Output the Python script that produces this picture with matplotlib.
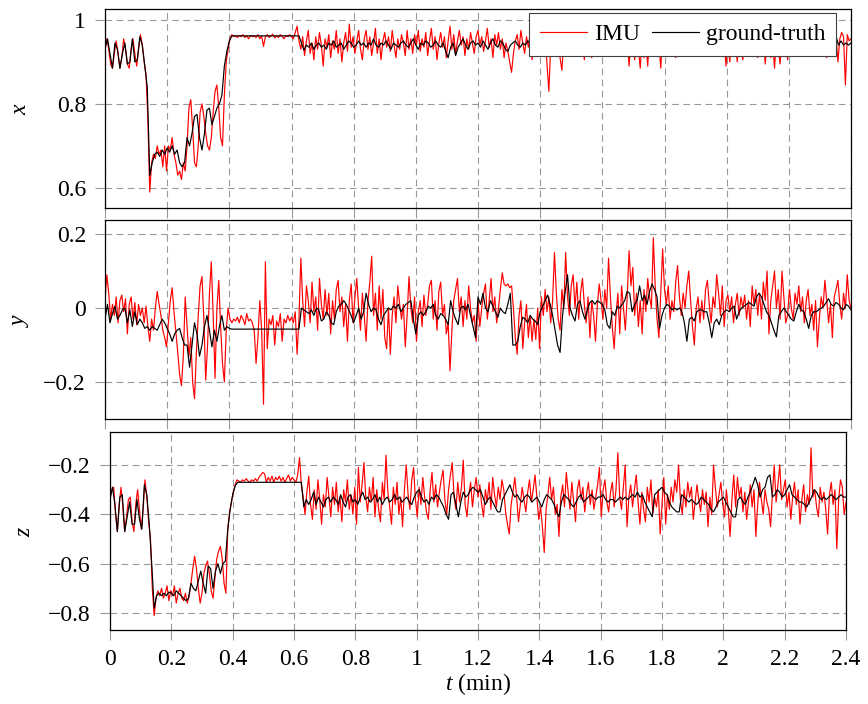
import matplotlib
matplotlib.use('Agg')
import matplotlib.pyplot as plt
from matplotlib.ticker import FuncFormatter
import numpy as np

plt.rcParams['font.family'] = ['Liberation Serif', 'DejaVu Serif']
plt.rcParams['mathtext.fontset'] = 'custom'
plt.rcParams['mathtext.rm'] = 'Liberation Serif'
plt.rcParams['mathtext.it'] = 'Liberation Serif:italic'
plt.rcParams['font.size'] = 17

# IMU samples every 0.006 min, ground-truth every 0.008 min (0 .. 2.4)
x_imu = [
    0.94, 0.955, 0.93, 0.895, 0.885, 0.92, 0.95, 0.92, 0.885, 0.91, 0.955, 0.93, 0.895, 0.885, 0.93, 0.955, 0.92, 0.89, 0.93, 0.965,
    0.94, 0.90, 0.87, 0.76, 0.59, 0.66, 0.68, 0.67, 0.70, 0.68, 0.69, 0.65, 0.70, 0.64, 0.70, 0.69, 0.72, 0.68, 0.66, 0.63,
    0.64, 0.62, 0.66, 0.64, 0.70, 0.79, 0.81, 0.74, 0.66, 0.65, 0.70, 0.78, 0.80, 0.77, 0.73, 0.70, 0.69, 0.72, 0.78, 0.83,
    0.845, 0.79, 0.72, 0.70, 0.82, 0.90, 0.93, 0.955, 0.965, 0.96, 0.962, 0.958, 0.963, 0.96, 0.965, 0.958, 0.962, 0.955, 0.963, 0.96,
    0.962, 0.958, 0.965, 0.955, 0.962, 0.937, 0.96, 0.965, 0.958, 0.962, 0.966, 0.957, 0.962, 0.958, 0.965, 0.96, 0.955, 0.963, 0.96, 0.965,
    0.96, 0.955, 0.97, 0.985, 0.95, 0.93, 0.96, 0.915, 0.95, 0.975, 0.92, 0.945, 0.905, 0.96, 0.93, 0.97, 0.94, 0.89, 0.955, 0.935,
    0.965, 0.91, 0.95, 0.93, 0.975, 0.92, 0.955, 0.90, 0.945, 0.97, 0.925, 0.99, 0.935, 0.96, 0.92, 0.95, 0.975, 0.93, 0.905, 0.955,
    0.975, 0.93, 0.96, 0.915, 0.945, 0.98, 0.92, 0.955, 0.905, 0.95, 0.97, 0.935, 0.96, 0.925, 0.975, 0.94, 0.91, 0.955, 0.93, 0.965,
    0.945, 0.915, 0.975, 0.93, 0.955, 0.92, 0.965, 0.94, 0.975, 0.925, 0.955, 0.935, 0.97, 0.915, 0.95, 0.98, 0.93, 0.96, 0.905, 0.945,
    0.97, 0.935, 0.96, 0.91, 0.95, 0.985, 0.93, 0.965, 0.92, 0.95, 0.975, 0.94, 0.96, 0.915, 0.955, 0.93, 0.97, 0.945, 0.92, 0.96,
    0.975, 0.94, 0.96, 0.925, 0.95, 0.98, 0.935, 0.955, 0.91, 0.965, 0.94, 0.97, 0.93, 0.955, 0.91, 0.945, 0.925, 0.90, 0.875, 0.92,
    0.95, 0.965, 0.93, 0.975, 0.945, 0.92, 0.96, 0.935, 0.97, 0.905, 0.95, 0.94, 0.965, 0.92, 0.955, 0.93, 0.975, 0.895, 0.83, 0.94,
    0.96, 0.93, 0.955, 0.975, 0.91, 0.88, 0.95, 0.935, 0.965, 0.945, 0.92, 0.96, 0.975, 0.94, 0.955, 0.93, 0.965, 0.905, 0.95, 0.97,
    0.945, 0.91, 0.96, 0.935, 0.975, 0.95, 0.915, 0.96, 0.94, 0.97, 0.925, 0.955, 0.945, 0.965, 0.93, 0.96, 0.975, 0.94, 0.955, 0.92,
    0.96, 0.89, 0.95, 0.975, 0.905, 0.945, 0.93, 0.885, 0.96, 0.91, 0.95, 0.89, 0.965, 0.94, 0.975, 0.93, 0.955, 0.945, 0.885, 0.96,
    0.94, 0.975, 0.92, 0.955, 0.965, 0.935, 0.91, 0.96, 0.945, 0.975, 0.93, 0.955, 0.97, 0.94, 0.96, 0.925, 0.965, 0.95, 0.975, 0.935,
    0.96, 0.945, 0.975, 0.93, 0.955, 0.965, 0.94, 0.97, 0.95, 0.925, 0.96, 0.975, 0.945, 0.89, 0.955, 0.90, 0.965, 0.935, 0.97, 0.90,
    0.955, 0.93, 0.905, 0.965, 0.945, 0.975, 0.92, 0.96, 0.94, 0.975, 0.91, 0.955, 0.93, 0.965, 0.895, 0.95, 0.975, 0.91, 0.945, 0.885,
    0.96, 0.93, 0.895, 0.965, 0.945, 0.975, 0.905, 0.955, 0.935, 0.97, 0.95, 0.915, 0.96, 0.945, 0.975, 0.925, 0.955, 0.94, 0.965, 0.93,
    0.97, 0.945, 0.915, 0.96, 0.975, 0.935, 0.955, 0.91, 0.965, 0.945, 0.975, 0.93, 0.96, 0.90, 0.955, 0.97, 0.96, 0.845, 0.965, 0.95,
    0.955]

x_gt = [
    0.93, 0.955, 0.92, 0.885, 0.945, 0.93, 0.885, 0.92, 0.945, 0.895, 0.90, 0.955, 0.90, 0.905, 0.96,
    0.94, 0.89, 0.84, 0.63, 0.66, 0.68, 0.685, 0.675, 0.69, 0.68, 0.695, 0.685, 0.70, 0.68, 0.69,
    0.66, 0.65, 0.66, 0.72, 0.70, 0.73, 0.77, 0.775, 0.72, 0.69, 0.73, 0.785, 0.79, 0.75, 0.77,
    0.79, 0.80, 0.82, 0.89, 0.925, 0.95, 0.962, 0.962, 0.962, 0.962, 0.962, 0.962, 0.962, 0.962, 0.962,
    0.962, 0.962, 0.962, 0.962, 0.962, 0.962, 0.962, 0.962, 0.962, 0.962, 0.962, 0.962, 0.962, 0.962, 0.962,
    0.962, 0.962, 0.962, 0.962, 0.945, 0.928, 0.94, 0.935, 0.945, 0.93, 0.94, 0.945, 0.935, 0.94, 0.93,
    0.945, 0.94, 0.95, 0.935, 0.94, 0.945, 0.93, 0.94, 0.95, 0.945, 0.935, 0.94, 0.95, 0.94, 0.945,
    0.935, 0.945, 0.94, 0.955, 0.94, 0.935, 0.945, 0.94, 0.95, 0.94, 0.93, 0.945, 0.94, 0.935, 0.945,
    0.95, 0.94, 0.935, 0.945, 0.955, 0.94, 0.93, 0.945, 0.94, 0.95, 0.945, 0.935, 0.94, 0.95, 0.94,
    0.935, 0.945, 0.925, 0.91, 0.935, 0.945, 0.915, 0.935, 0.945, 0.955, 0.94, 0.93, 0.945, 0.95, 0.94,
    0.945, 0.935, 0.95, 0.94, 0.93, 0.945, 0.955, 0.94, 0.935, 0.95, 0.945, 0.93, 0.925, 0.94, 0.945,
    0.95, 0.94, 0.935, 0.945, 0.94, 0.95, 0.945, 0.935, 0.94, 0.945, 0.93, 0.94, 0.95, 0.945, 0.94,
    0.94, 0.945, 0.935, 0.95, 0.94, 0.93, 0.945, 0.94, 0.95, 0.935, 0.945, 0.94, 0.95, 0.945, 0.935,
    0.945, 0.94, 0.95, 0.935, 0.94, 0.945, 0.955, 0.94, 0.935, 0.945, 0.94, 0.95, 0.945, 0.935, 0.94,
    0.945, 0.935, 0.94, 0.95, 0.94, 0.93, 0.945, 0.94, 0.935, 0.945, 0.95, 0.94, 0.935, 0.945, 0.94,
    0.935, 0.945, 0.94, 0.95, 0.945, 0.935, 0.94, 0.915, 0.94, 0.945, 0.95, 0.94, 0.935, 0.945, 0.94,
    0.935, 0.945, 0.915, 0.94, 0.95, 0.945, 0.935, 0.94, 0.945, 0.95, 0.94, 0.935, 0.945, 0.94, 0.92,
    0.94, 0.945, 0.95, 0.94, 0.935, 0.945, 0.94, 0.95, 0.945, 0.935, 0.94, 0.945, 0.95, 0.94, 0.935,
    0.945, 0.94, 0.95, 0.945, 0.935, 0.94, 0.945, 0.95, 0.94, 0.935, 0.945, 0.94, 0.95, 0.945, 0.94,
    0.935, 0.945, 0.94, 0.95, 0.945, 0.935, 0.94, 0.945, 0.95, 0.96, 0.94, 0.95, 0.94, 0.945, 0.94,
    0.945]

y_imu = [
    0.02, 0.09, 0.04, -0.03, 0.01, -0.02, 0.03, -0.04, 0.02, 0.035, -0.01, 0.025, -0.07, 0.01, 0.03, -0.03, 0.015, -0.045, 0.01, -0.02,
    0.0, -0.04, 0.005, -0.05, -0.09, -0.03, -0.06, 0.0, 0.045, 0.01, -0.02, -0.06, -0.08, -0.105, -0.04, 0.02, 0.055, -0.01, -0.065, -0.12,
    -0.18, -0.21, -0.13, 0.03, -0.05, -0.13, -0.08, -0.20, -0.245, -0.12, -0.02, 0.06, 0.085, -0.03, -0.195, -0.10, 0.04, 0.125, -0.02, -0.19,
    0.0, 0.075, -0.05, -0.15, -0.2, -0.06, 0.0, -0.03, -0.04, -0.03, -0.035, -0.025, -0.04, -0.02, -0.03, -0.045, -0.015, -0.035, -0.03, -0.04,
    -0.06, -0.15, -0.08, 0.02, -0.06, -0.26, 0.125, -0.11, -0.03, -0.045, -0.02, -0.10, -0.035, -0.05, -0.015, -0.09, -0.03, -0.04, -0.02, -0.035,
    -0.025, -0.04, -0.01, -0.125, -0.03, 0.135, 0.02, -0.05, 0.06, 0.02, -0.04, 0.07, -0.01, 0.03, -0.06, 0.08, 0.01, -0.03, 0.05, -0.02,
    0.04, -0.07, 0.02, -0.03, 0.05, 0.075, -0.01, 0.03, -0.05, 0.01, -0.09, 0.02, 0.065, -0.04, 0.03, 0.08, 0.0, -0.06, 0.04, -0.02,
    -0.09, 0.02, 0.07, 0.14, -0.02, 0.04, -0.06, 0.06, -0.03, 0.05, -0.08, -0.11, 0.0, -0.125, -0.02, 0.03, -0.04, 0.06, 0.01, -0.03,
    0.01, -0.105, -0.02, 0.085, 0.0, -0.04, 0.03, -0.09, -0.01, 0.02, -0.05, 0.035, -0.02, 0.01, 0.06, 0.075, -0.03, 0.02, -0.06, 0.045,
    0.07, -0.02, 0.01, -0.07, -0.04, -0.17, -0.06, 0.02, 0.05, 0.08, -0.01, 0.03, -0.05, 0.02, -0.03, 0.06, 0.0, -0.04, -0.02, -0.09,
    0.02, -0.05, 0.0, 0.04, 0.065, -0.03, 0.02, 0.08, -0.01, 0.03, -0.04, 0.0, 0.05, 0.095, 0.065, 0.06, 0.065, 0.055, 0.06, 0.0,
    -0.08, -0.125, -0.02, 0.02, -0.11, -0.04, 0.01, -0.08, -0.02, -0.09, -0.03, -0.085, 0.0, -0.11, 0.03, -0.02, 0.05, -0.01, 0.03, -0.04,
    0.02, 0.15, 0.04, -0.03, -0.06, 0.05, 0.0, 0.15, 0.03, -0.02, 0.06, 0.09, 0.0, 0.07, -0.03, 0.04, 0.08, 0.01, -0.04, 0.03,
    -0.08, 0.02, -0.02, -0.09, 0.01, 0.065, 0.02, -0.03, 0.05, 0.0, 0.135, 0.03, -0.05, -0.11, -0.02, 0.04, -0.07, 0.06, 0.0, -0.06,
    0.03, 0.155, 0.06, 0.11, -0.02, 0.04, -0.05, 0.02, -0.07, 0.05, -0.01, 0.08, 0.03, 0.0, 0.19, 0.06, -0.03, -0.08, 0.04, 0.16,
    0.05, 0.01, 0.06, -0.03, 0.02, -0.01, 0.07, 0.115, 0.03, -0.02, 0.04, 0.0, 0.06, 0.1, 0.02, -0.05, -0.1, 0.0, 0.03, -0.04,
    0.02, -0.03, 0.05, 0.075, 0.01, -0.04, 0.03, 0.0, 0.09, 0.04, -0.02, 0.06, -0.05, 0.02, 0.035, -0.01, 0.03, -0.04, 0.01, 0.04,
    -0.02, 0.03, 0.0, 0.035, -0.03, 0.02, -0.05, 0.06, 0.01, 0.05, -0.02, 0.04, -0.03, 0.07, 0.02, 0.1, -0.07, 0.02, 0.06, 0.1,
    0.0, 0.05, -0.03, 0.1, 0.03, -0.04, -0.02, 0.05, 0.0, -0.03, 0.04, 0.01, 0.06, -0.01, 0.03, -0.04, 0.02, 0.05, -0.02, 0.01,
    -0.06, 0.02, -0.105, -0.03, 0.03, 0.0, 0.075, 0.02, -0.04, 0.01, -0.08, 0.03, 0.05, 0.075, 0.01, -0.03, 0.04, 0.0, 0.09, 0.02,
    0.0]

y_gt = [
    -0.03, 0.01, -0.04, -0.015, 0.005, -0.03, -0.02, -0.005, 0.0, -0.04, -0.005, -0.05, -0.01, -0.045, -0.03,
    -0.04, -0.055, -0.05, -0.06, -0.05, -0.055, -0.06, -0.045, -0.03, -0.04, -0.055, -0.07, -0.09, -0.07, -0.06,
    -0.055, -0.08, -0.1, -0.1, -0.16, -0.1, -0.04, -0.07, -0.13, -0.1, -0.05, -0.02, -0.06, -0.105, -0.06,
    -0.09, -0.05, -0.02, -0.06, -0.05, -0.055, -0.057, -0.057, -0.057, -0.057, -0.057, -0.057, -0.057, -0.057, -0.057,
    -0.057, -0.057, -0.057, -0.057, -0.057, -0.057, -0.057, -0.057, -0.057, -0.057, -0.057, -0.057, -0.057, -0.057, -0.057,
    -0.057, -0.057, -0.057, -0.057, 0.0, -0.005, -0.01, -0.015, -0.005, -0.02, 0.0, -0.005, -0.035, -0.03, -0.01,
    -0.02, -0.04, -0.045, -0.01, 0.005, 0.01, 0.02, 0.01, -0.005, -0.02, -0.04, -0.02, 0.0, -0.03, -0.01,
    0.04, 0.01, -0.01, 0.0, -0.005, -0.03, -0.045, -0.02, -0.01, 0.0, -0.005, 0.005, 0.0, 0.01, -0.01,
    0.0, 0.01, 0.015, 0.02, -0.03, -0.07, -0.02, -0.01, -0.02, -0.01, 0.005, 0.0, 0.01, -0.02, -0.03,
    -0.015, -0.02, -0.03, -0.045, 0.02, -0.01, -0.03, -0.045, 0.0, 0.005, -0.005, 0.01, -0.02, -0.05, -0.08,
    0.03, 0.01, 0.04, 0.0, -0.01, 0.02, 0.005, -0.01, -0.025, 0.0, -0.01, -0.015, 0.01, 0.04, -0.1,
    -0.1, -0.09, -0.05, -0.025, -0.03, -0.04, -0.02, -0.03, -0.035, -0.045, -0.01, 0.005, 0.02, 0.035, 0.01,
    -0.02, -0.06, -0.1, -0.12, -0.02, 0.04, 0.09, 0.0, -0.02, -0.035, 0.01, 0.02, -0.01, -0.03, -0.005,
    0.015, 0.02, 0.01, 0.02, 0.015, 0.01, -0.005, -0.045, -0.055, -0.01, -0.02, 0.005, 0.0, 0.01, 0.02,
    0.045, 0.04, -0.01, 0.01, 0.02, 0.06, 0.02, 0.035, 0.01, 0.045, 0.065, 0.05, 0.03, -0.055, -0.02,
    0.0, 0.01, 0.005, -0.005, 0.0, -0.005, 0.0, -0.01, -0.04, -0.09, -0.03, -0.025, -0.035, -0.01, -0.005,
    -0.005, -0.01, -0.01, -0.04, -0.08, -0.04, -0.03, -0.045, -0.02, -0.01, -0.005, -0.01, 0.0, 0.005, -0.03,
    -0.01, 0.0, 0.005, 0.01, 0.015, 0.01, 0.005, 0.03, 0.04, 0.03, 0.01, -0.01, -0.02, -0.04, -0.06,
    -0.078, -0.02, -0.01, 0.0, -0.01, -0.02, -0.03, -0.035, -0.01, 0.01, -0.005, -0.01, -0.03, -0.055, -0.02,
    -0.01, -0.01, -0.005, 0.0, 0.005, 0.015, 0.025, 0.01, 0.005, 0.015, 0.01, 0.0, -0.005, 0.01, 0.005,
    -0.005]

z_imu = [
    -0.33, -0.3, -0.29, -0.4, -0.47, -0.36, -0.29, -0.37, -0.47, -0.41, -0.34, -0.33, -0.43, -0.47, -0.36, -0.30, -0.38, -0.46, -0.38, -0.26,
    -0.33, -0.43, -0.5, -0.7, -0.81, -0.74, -0.71, -0.73, -0.70, -0.74, -0.72, -0.69, -0.75, -0.71, -0.73, -0.69, -0.76, -0.72, -0.70, -0.74,
    -0.75, -0.72, -0.76, -0.73, -0.68, -0.62, -0.57, -0.62, -0.70, -0.76, -0.72, -0.64, -0.61, -0.59, -0.64, -0.71, -0.74, -0.66, -0.58, -0.55,
    -0.53, -0.58, -0.68, -0.72, -0.46, -0.39, -0.35, -0.31, -0.28, -0.26, -0.265, -0.27, -0.26, -0.265, -0.255, -0.265, -0.27, -0.26, -0.265, -0.255,
    -0.265, -0.25, -0.24, -0.23, -0.235, -0.27, -0.25, -0.265, -0.245, -0.27, -0.25, -0.26, -0.245, -0.265, -0.25, -0.27, -0.255, -0.24, -0.265, -0.25,
    -0.26, -0.27, -0.24, -0.17, -0.28, -0.33, -0.4, -0.31, -0.245, -0.36, -0.42, -0.3, -0.38, -0.26, -0.34, -0.44, -0.32, -0.37, -0.25, -0.33,
    -0.41, -0.29, -0.36, -0.27, -0.39, -0.33, -0.43, -0.3, -0.35, -0.26, -0.38, -0.32, -0.4, -0.29, -0.44, -0.21, -0.35, -0.28, -0.19, -0.33,
    -0.39, -0.29, -0.35, -0.25, -0.41, -0.3, -0.38, -0.43, -0.27, -0.34, -0.16, -0.31, -0.37, -0.44, -0.29, -0.36, -0.27, -0.4, -0.33, -0.45,
    -0.3, -0.2, -0.32, -0.38, -0.26, -0.21, -0.34, -0.41, -0.29, -0.36, -0.25, -0.33, -0.39, -0.42, -0.3, -0.23, -0.35, -0.28, -0.37, -0.31,
    -0.26, -0.22, -0.34, -0.4, -0.3, -0.24, -0.19, -0.33, -0.38, -0.27, -0.35, -0.29, -0.18, -0.36, -0.41, -0.32, -0.27, -0.37, -0.3, -0.25,
    -0.33, -0.28, -0.36, -0.41, -0.3, -0.35, -0.27, -0.38, -0.25, -0.32, -0.37, -0.29, -0.34, -0.26, -0.3, -0.39, -0.44, -0.48, -0.36, -0.31,
    -0.25, -0.33, -0.43, -0.36, -0.29, -0.34, -0.39, -0.31, -0.26, -0.35, -0.3, -0.24, -0.33, -0.42, -0.37, -0.45, -0.555, -0.38, -0.32, -0.25,
    -0.34, -0.29, -0.4, -0.36, -0.49, -0.33, -0.28, -0.37, -0.23, -0.31, -0.38, -0.27, -0.35, -0.43, -0.3, -0.26, -0.34, -0.29, -0.39, -0.32,
    -0.27, -0.36, -0.3, -0.38, -0.33, -0.28, -0.21, -0.41, -0.3, -0.26, -0.35, -0.39, -0.31, -0.27, -0.37, -0.3, -0.15, -0.33, -0.38, -0.29,
    -0.2, -0.45, -0.33, -0.28, -0.37, -0.3, -0.24, -0.35, -0.44, -0.31, -0.38, -0.43, -0.29, -0.35, -0.26, -0.4, -0.33, -0.37, -0.3, -0.48,
    -0.36, -0.25, -0.44, -0.32, -0.38, -0.29, -0.35, -0.26, -0.31, -0.2, -0.34, -0.4, -0.3, -0.37, -0.27, -0.33, -0.29, -0.42, -0.35, -0.28,
    -0.34, -0.39, -0.3, -0.36, -0.31, -0.45, -0.33, -0.4, -0.2, -0.29, -0.37, -0.32, -0.27, -0.36, -0.41, -0.3, -0.38, -0.49, -0.34, -0.24,
    -0.37, -0.25, -0.33, -0.29, -0.39, -0.31, -0.42, -0.35, -0.28, -0.37, -0.3, -0.49, -0.36, -0.27, -0.34, -0.4, -0.3, -0.35, -0.38, -0.45,
    -0.32, -0.2, -0.35, -0.28, -0.2, -0.34, -0.3, -0.26, -0.37, -0.31, -0.42, -0.33, -0.27, -0.36, -0.3, -0.44, -0.34, -0.28, -0.39, -0.32,
    -0.36, -0.13, -0.33, -0.3, -0.37, -0.41, -0.29, -0.35, -0.31, -0.38, -0.48, -0.32, -0.27, -0.36, -0.3, -0.54, -0.34, -0.26, -0.29, -0.4,
    -0.35]

z_gt = [
    -0.34, -0.29, -0.36, -0.47, -0.33, -0.32, -0.47, -0.41, -0.35, -0.44, -0.44, -0.34, -0.42, -0.46, -0.28,
    -0.32, -0.44, -0.6, -0.78, -0.73, -0.72, -0.73, -0.72, -0.73, -0.715, -0.72, -0.73, -0.71, -0.72, -0.73,
    -0.74, -0.75, -0.74, -0.68, -0.70, -0.71, -0.67, -0.63, -0.68, -0.72, -0.61, -0.62, -0.70, -0.63, -0.6,
    -0.64, -0.6, -0.59, -0.46, -0.38, -0.32, -0.285, -0.27, -0.27, -0.27, -0.27, -0.27, -0.27, -0.27, -0.27,
    -0.27, -0.27, -0.27, -0.27, -0.27, -0.27, -0.27, -0.27, -0.27, -0.27, -0.27, -0.27, -0.27, -0.27, -0.27,
    -0.27, -0.27, -0.27, -0.27, -0.37, -0.34, -0.36, -0.34, -0.31, -0.36, -0.33, -0.35, -0.37, -0.34, -0.33,
    -0.35, -0.33, -0.34, -0.36, -0.32, -0.35, -0.37, -0.33, -0.32, -0.35, -0.34, -0.36, -0.33, -0.31, -0.34,
    -0.33, -0.35, -0.34, -0.32, -0.35, -0.33, -0.36, -0.34, -0.33, -0.35, -0.34, -0.32, -0.34, -0.33, -0.35,
    -0.34, -0.33, -0.35, -0.36, -0.33, -0.31, -0.30, -0.33, -0.35, -0.34, -0.36, -0.33, -0.34, -0.32, -0.33,
    -0.35, -0.37, -0.40, -0.42, -0.32, -0.31, -0.36, -0.41, -0.35, -0.31, -0.33, -0.32, -0.30, -0.29, -0.30,
    -0.31, -0.30, -0.33, -0.36, -0.34, -0.33, -0.35, -0.37, -0.39, -0.39, -0.34, -0.32, -0.30, -0.28, -0.31,
    -0.33, -0.32, -0.34, -0.35, -0.33, -0.32, -0.33, -0.35, -0.34, -0.33, -0.35, -0.37, -0.34, -0.32, -0.33,
    -0.34, -0.36, -0.39, -0.41, -0.35, -0.32, -0.33, -0.34, -0.36, -0.37, -0.35, -0.33, -0.32, -0.35, -0.34,
    -0.33, -0.32, -0.33, -0.34, -0.33, -0.33, -0.32, -0.34, -0.35, -0.34, -0.34, -0.35, -0.34, -0.33, -0.34,
    -0.33, -0.34, -0.33, -0.32, -0.33, -0.31, -0.33, -0.32, -0.35, -0.37, -0.39, -0.41, -0.32, -0.31, -0.30,
    -0.29, -0.31, -0.32, -0.35, -0.37, -0.38, -0.39, -0.39, -0.32, -0.33, -0.34, -0.35, -0.34, -0.35, -0.36,
    -0.35, -0.33, -0.34, -0.35, -0.36, -0.38, -0.39, -0.37, -0.35, -0.34, -0.33, -0.35, -0.37, -0.39, -0.41,
    -0.41, -0.34, -0.33, -0.35, -0.36, -0.33, -0.31, -0.28, -0.25, -0.28, -0.33, -0.30, -0.29, -0.25, -0.24,
    -0.33, -0.32, -0.30, -0.31, -0.33, -0.32, -0.30, -0.28, -0.32, -0.33, -0.34, -0.35, -0.35, -0.36, -0.37,
    -0.35, -0.33, -0.30, -0.31, -0.33, -0.34, -0.33, -0.34, -0.33, -0.32, -0.33, -0.34, -0.33, -0.32, -0.33,
    -0.33]

t_imu = np.linspace(0, 2.4, len(x_imu))
t_gt = np.linspace(0, 2.4, len(x_gt))

t_ticks = [0, 0.2, 0.4, 0.6, 0.8, 1, 1.2, 1.4, 1.6, 1.8, 2, 2.2, 2.4]
x_ticks = [0.6, 0.8, 1]
y_ticks = [-0.2, 0, 0.2]
z_ticks = [-0.8, -0.6, -0.4, -0.2]


def fmt(v, pos):
    return ('%g' % round(v, 3)).replace('-', '\u2212')


def panel(ax, imu, gt, ticks, ylim, name, label_x):
    ax.plot(t_imu, imu, color='red', lw=0.85, label='IMU')
    ax.plot(t_gt, gt, color='black', lw=0.85, label='ground-truth')
    ax.set_xlim(0, 2.4)
    ax.set_ylim(ylim)
    ax.set_xticks(t_ticks)
    ax.set_yticks(ticks)
    ax.xaxis.set_major_formatter(FuncFormatter(fmt))
    ax.yaxis.set_major_formatter(FuncFormatter(fmt))
    ax.grid(True, color='0.6', linestyle=(0, (6, 4)), linewidth=0.8)
    ax.set_axisbelow(True)
    ax.tick_params(direction='out', length=7.2, width=0.8, color='0.6', pad=6.5)
    for s in ax.spines.values():
        s.set_linewidth(0.9)
    ax.set_ylabel('$' + name + '$')
    ax.yaxis.set_label_coords(label_x, 0.5)


fig = plt.figure(figsize=(8.68, 7.04), dpi=100)
ax1 = fig.add_axes([105 / 868, 1 - 208 / 704, 746 / 868, 199 / 704])
ax2 = fig.add_axes([105 / 868, 1 - 419 / 704, 746 / 868, 199 / 704])
ax3 = fig.add_axes([110 / 868, 1 - 630 / 704, 736 / 868, 198 / 704])

panel(ax1, x_imu, x_gt, x_ticks, (0.552, 1.026), 'x', -0.099)
panel(ax2, y_imu, y_gt, y_ticks, (-0.30, 0.238), 'y', -0.099)
panel(ax3, z_imu, z_gt, z_ticks, (-0.869, -0.066), 'z', -0.102)

ax1.tick_params(labelbottom=False)
ax2.tick_params(labelbottom=False)
ax3.set_xlabel('$t$ (min)', labelpad=1)

leg = ax1.legend(loc='upper right', bbox_to_anchor=(0.98, 0.98), ncol=2,
                 fancybox=False, edgecolor='0.25', framealpha=1,
                 handlelength=2.0, handletextpad=0.3, columnspacing=0.5,
                 borderpad=0.45, borderaxespad=0)
leg.get_frame().set_linewidth(0.8)

fig.savefig('out.png', dpi=100)
